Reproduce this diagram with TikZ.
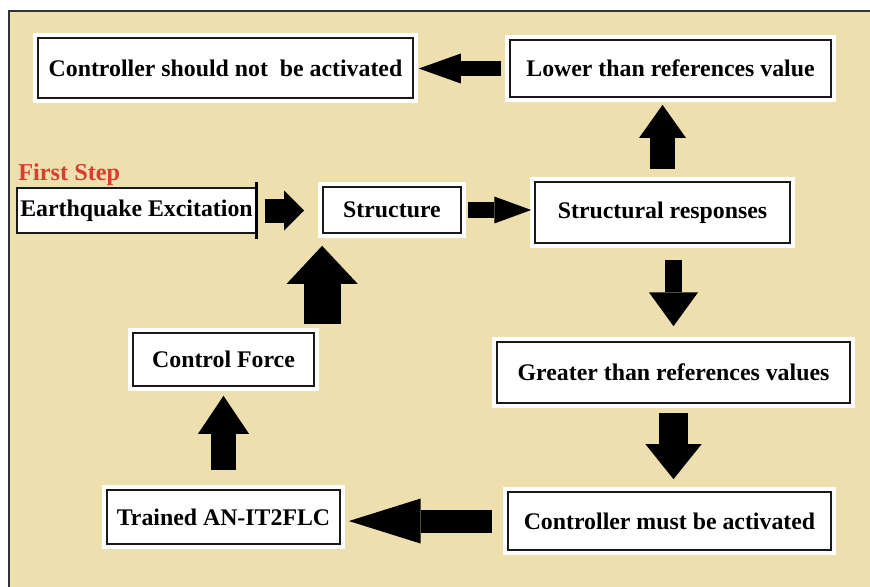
\documentclass[tikz,border=0pt]{standalone}
\usepackage{fontspec}
\setmainfont{Liberation Serif}
\usepackage{xcolor}
\usetikzlibrary{positioning, calc, arrows.meta}

\definecolor{sand}{RGB}{237,224,174}
\definecolor{stepred}{RGB}{214,62,46}

\begin{document}
\begin{tikzpicture}[
    box/.style={draw=black!90, line width=0.8pt, fill=white, align=center,
                font=\bfseries\fontsize{11.3}{13}\selectfont, inner sep=2pt},
    glow/.style={box, preaction={draw=white, line width=5pt}},
    blk/.style n args={3}{line width=#1,
                -{Triangle[width=#2, length=#3, line width=0pt]}},
]
\useasboundingbox (0,0) rectangle (14.5,9.767);
\fill[sand] (0.15,-0.2) rectangle (14.8,9.583);
\draw[black!80, line width=0.7pt] (0.15,-0.2) -- (0.15,9.583) -- (14.8,9.583);

\node[glow, minimum width=6.25cm, minimum height=1.0cm] (cna) at (3.758,8.633) {Controller should not~ be activated};
\node[glow, minimum width=5.35cm, minimum height=0.95cm] (low) at (11.175,8.625) {Lower than references value};
\node[anchor=west, inner sep=0pt, text=stepred, font=\bfseries\fontsize{11.5}{13}\selectfont] (step) at (0.3,6.85) {First Step};
\node[box, minimum width=3.98cm, minimum height=0.75cm, inner sep=0pt] (eq) at (2.275,6.258) {Earthquake Excitation};
\node[glow, minimum width=2.3cm, minimum height=0.767cm] (st) at (6.533,6.267) {Structure};
\node[glow, minimum width=4.25cm, minimum height=1.017cm] (sr) at (11.042,6.225) {Structural responses};
\node[glow, minimum width=5.883cm, minimum height=1.017cm] (gt) at (11.225,3.558) {Greater than references values};
\node[glow, minimum width=5.383cm, minimum height=0.967cm] (cm) at (11.158,1.083) {Controller must be activated};
\node[glow, minimum width=3.883cm, minimum height=0.9cm] (tr) at (3.725,1.15) {Trained AN-IT2FLC};
\node[glow, minimum width=3.017cm, minimum height=0.883cm] (cf) at (3.725,3.775) {Control Force};

\draw[line width=1.3pt] ([yshift=0.09cm]eq.north east) -- ([yshift=-0.09cm]eq.south east);

\draw[blk={7.1pt}{14.2pt}{19.9pt}, shorten <=0.133cm, shorten >=0.083cm] (low.west) -- (low.west -| cna.east);
\draw[blk={11.4pt}{19pt}{9.5pt}, shorten <=0.133cm, shorten >=0.3cm] (eq.east) -- (eq.east -| st.west);
\draw[blk={7.6pt}{12.8pt}{17.5pt}, shorten <=0.1cm, shorten >=0.05cm] (st.east) -- (st.east -| sr.west);
\draw[blk={11.9pt}{22.3pt}{15.7pt}, shorten <=0.2cm, shorten >=0.117cm] (sr.north) -- (sr.north |- low.south);
\draw[blk={8pt}{23.2pt}{16pt}, shorten <=0.267cm, shorten >=0.25cm] (gt.north |- sr.south) -- (gt.north);
\draw[blk={13.8pt}{26.6pt}{16.6pt}, shorten <=0.15cm, shorten >=0.2cm] (gt.south) -- (gt.south |- cm.north);
\draw[blk={10.9pt}{21.3pt}{34pt}, shorten <=0.25cm, shorten >=0.133cm] (cm.west) -- (cm.west -| tr.east);
\draw[blk={12.3pt}{24.2pt}{18pt}, shorten <=0.317cm, shorten >=0.15cm] (tr.north) -- (tr.north |- cf.south);
\draw[blk={17.5pt}{33.7pt}{18pt}, shorten <=0.133cm, shorten >=0.2cm] (cf.north -| st.west) -- (st.south -| st.west);
\end{tikzpicture}
\end{document}
